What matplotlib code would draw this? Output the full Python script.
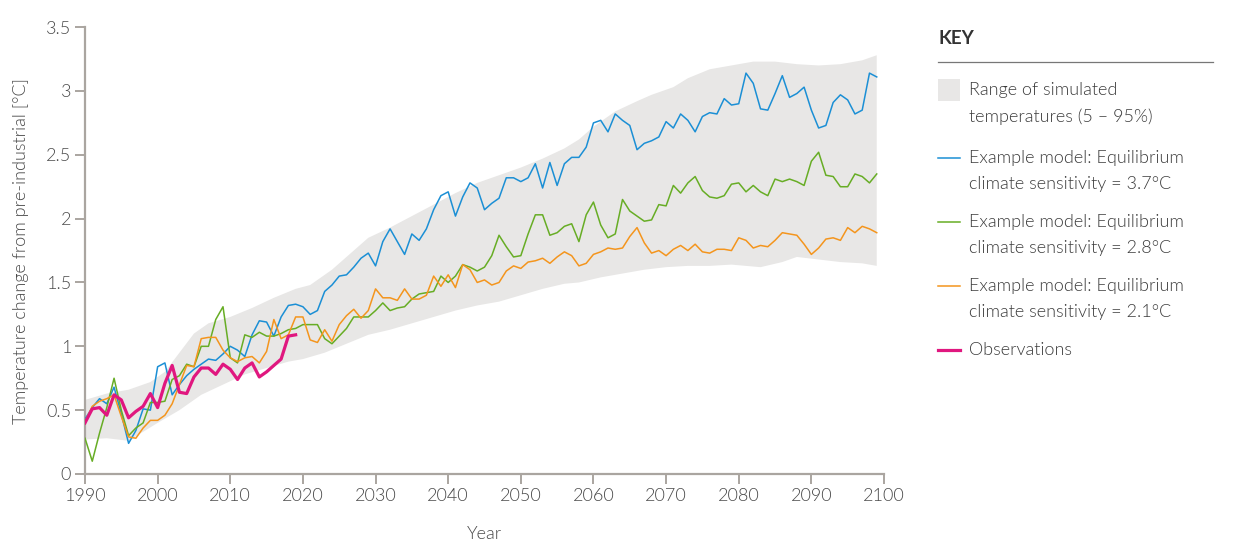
import numpy as np
import matplotlib
matplotlib.use("Agg")
import matplotlib.pyplot as plt
from matplotlib.patches import Rectangle

plt.rcParams['font.family'] = ['Lato', 'DejaVu Sans']
plt.rcParams['font.weight'] = 300

# yearly model runs, 1990-2099
years = np.arange(1990, 2100)

ecs_37 = [0.43, 0.52, 0.59, 0.55, 0.68, 0.47, 0.24, 0.34, 0.51, 0.50,
          0.84, 0.87, 0.62, 0.70, 0.77, 0.82, 0.86, 0.90, 0.89, 0.94,
          1.00, 0.97, 0.92, 1.09, 1.20, 1.19, 1.08, 1.23, 1.32, 1.33,
          1.31, 1.25, 1.28, 1.43, 1.48, 1.55, 1.56, 1.62, 1.69, 1.73,
          1.63, 1.82, 1.92, 1.82, 1.72, 1.88, 1.83, 1.92, 2.07, 2.18,
          2.21, 2.02, 2.17, 2.28, 2.24, 2.07, 2.12, 2.16, 2.32, 2.32,
          2.29, 2.32, 2.43, 2.24, 2.44, 2.26, 2.43, 2.48, 2.48, 2.56,
          2.75, 2.77, 2.68, 2.82, 2.77, 2.73, 2.54, 2.59, 2.61, 2.64,
          2.76, 2.71, 2.82, 2.77, 2.68, 2.80, 2.83, 2.82, 2.94, 2.89,
          2.90, 3.14, 3.06, 2.86, 2.85, 2.98, 3.12, 2.95, 2.98, 3.03,
          2.85, 2.71, 2.73, 2.91, 2.97, 2.93, 2.82, 2.85, 3.14, 3.11]

ecs_28 = [0.28, 0.10, 0.32, 0.52, 0.75, 0.50, 0.30, 0.36, 0.40, 0.56,
          0.56, 0.57, 0.74, 0.77, 0.86, 0.84, 1.00, 1.00, 1.21, 1.31,
          0.91, 0.87, 1.09, 1.07, 1.11, 1.08, 1.08, 1.10, 1.13, 1.14,
          1.17, 1.17, 1.17, 1.06, 1.02, 1.08, 1.14, 1.23, 1.23, 1.23,
          1.28, 1.34, 1.28, 1.30, 1.31, 1.37, 1.41, 1.42, 1.43, 1.55,
          1.50, 1.55, 1.64, 1.62, 1.59, 1.62, 1.71, 1.87, 1.78, 1.70,
          1.71, 1.88, 2.03, 2.03, 1.87, 1.89, 1.94, 1.96, 1.82, 2.03,
          2.13, 1.95, 1.85, 1.88, 2.15, 2.06, 2.02, 1.98, 1.99, 2.11,
          2.10, 2.26, 2.20, 2.28, 2.33, 2.22, 2.17, 2.16, 2.18, 2.27,
          2.28, 2.21, 2.26, 2.21, 2.18, 2.31, 2.29, 2.31, 2.29, 2.26,
          2.45, 2.52, 2.34, 2.33, 2.25, 2.25, 2.35, 2.33, 2.28, 2.35]

ecs_21 = [0.41, 0.53, 0.57, 0.59, 0.62, 0.45, 0.29, 0.28, 0.36, 0.42,
          0.42, 0.46, 0.55, 0.70, 0.85, 0.84, 1.06, 1.07, 1.07, 0.97,
          0.91, 0.88, 0.91, 0.92, 0.87, 0.96, 1.21, 1.06, 1.09, 1.23,
          1.23, 1.05, 1.03, 1.13, 1.04, 1.17, 1.24, 1.29, 1.22, 1.28,
          1.45, 1.38, 1.38, 1.36, 1.45, 1.37, 1.37, 1.40, 1.55, 1.47,
          1.56, 1.46, 1.64, 1.60, 1.50, 1.52, 1.48, 1.50, 1.59, 1.63,
          1.61, 1.66, 1.67, 1.69, 1.65, 1.70, 1.74, 1.71, 1.63, 1.65,
          1.72, 1.74, 1.77, 1.76, 1.77, 1.86, 1.93, 1.81, 1.73, 1.75,
          1.71, 1.76, 1.79, 1.75, 1.80, 1.74, 1.73, 1.76, 1.76, 1.75,
          1.85, 1.83, 1.77, 1.79, 1.78, 1.83, 1.89, 1.88, 1.87, 1.80,
          1.72, 1.77, 1.84, 1.85, 1.83, 1.93, 1.89, 1.94, 1.92, 1.89]

# observations 1990-2019
obs_years = np.arange(1990, 2020)
obs = [0.40, 0.51, 0.52, 0.46, 0.62, 0.58, 0.44, 0.49, 0.53, 0.63,
       0.52, 0.71, 0.85, 0.64, 0.63, 0.76, 0.83, 0.83, 0.78, 0.86,
       0.82, 0.74, 0.83, 0.87, 0.76, 0.80, 0.85, 0.90, 1.08, 1.09]

# 5-95% range of simulated temperatures
band_upper_years = [1990, 1993, 1996, 1999, 2001, 2003, 2005, 2007, 2010, 2013,
                    2016, 2019, 2021, 2024, 2027, 2029, 2032, 2035, 2038, 2041,
                    2044, 2047, 2050, 2053, 2056, 2058, 2060, 2063, 2066, 2068,
                    2071, 2073, 2076, 2079, 2082, 2085, 2088, 2091, 2094, 2097, 2099]
band_upper = [0.58, 0.63, 0.66, 0.72, 0.80, 0.95, 1.10, 1.18, 1.23, 1.30,
              1.38, 1.45, 1.48, 1.60, 1.75, 1.85, 1.93, 2.02, 2.11, 2.20,
              2.28, 2.34, 2.40, 2.47, 2.55, 2.62, 2.72, 2.84, 2.92, 2.97,
              3.03, 3.10, 3.17, 3.20, 3.23, 3.23, 3.21, 3.20, 3.21, 3.24, 3.28]
band_lower_years = [1990, 1993, 1996, 1998, 2000, 2003, 2006, 2009, 2012, 2015,
                    2018, 2020, 2023, 2026, 2029, 2032, 2035, 2038, 2041, 2044,
                    2047, 2050, 2053, 2056, 2058, 2061, 2064, 2067, 2070, 2073,
                    2076, 2079, 2081, 2083, 2086, 2088, 2091, 2094, 2097, 2099]
band_lower = [0.27, 0.28, 0.26, 0.33, 0.40, 0.50, 0.62, 0.70, 0.78, 0.83,
              0.88, 0.90, 0.95, 1.02, 1.09, 1.13, 1.18, 1.23, 1.28, 1.32,
              1.35, 1.40, 1.45, 1.49, 1.50, 1.54, 1.57, 1.60, 1.62, 1.63,
              1.63, 1.64, 1.63, 1.62, 1.66, 1.70, 1.68, 1.66, 1.65, 1.63]

x_ticks = list(range(1990, 2101, 10))
y_ticks = [0, 0.5, 1, 1.5, 2, 2.5, 3, 3.5]
y_tick_labels = ['0', '0.5', '1', '1.5', '2', '2.5', '3', '3.5']

key_labels = ['Range of simulated\ntemperatures (5 \u2013 95%)',
              'Example model: Equilibrium\nclimate sensitivity = 3.7\u00b0C',
              'Example model: Equilibrium\nclimate sensitivity = 2.8\u00b0C',
              'Example model: Equilibrium\nclimate sensitivity = 2.1\u00b0C',
              'Observations']

c_band = '#e8e7e6'
c_blue = '#1b8fd5'
c_green = '#67ad25'
c_orange = '#f4951d'
c_pink = '#e0177f'
c_axis = '#aaa5a0'
c_text = '#4a4a4a'

fig = plt.figure(figsize=(12.5, 5.53), dpi=100)
ax = fig.add_axes([0.068, 0.1429, 0.6392, 0.808])

# band as polygon from upper edge and reversed lower edge
poly_x = list(band_upper_years) + list(band_lower_years[::-1])
poly_y = list(band_upper) + list(band_lower[::-1])
ax.fill(poly_x, poly_y, color=c_band, lw=0, zorder=1)

ax.plot(years, ecs_37, color=c_blue, lw=1.1, zorder=3)
ax.plot(years, ecs_28, color=c_green, lw=1.1, zorder=3)
ax.plot(years, ecs_21, color=c_orange, lw=1.1, zorder=3)
ax.plot(obs_years, obs, color=c_pink, lw=2.3, zorder=4)

ax.set_xlim(1990, 2100)
ax.set_ylim(0, 3.5)
ax.set_xticks(x_ticks)
ax.set_yticks(y_ticks)
ax.set_yticklabels(y_tick_labels)
for s in ['top', 'right']:
    ax.spines[s].set_visible(False)
for s in ['left', 'bottom']:
    ax.spines[s].set_color(c_axis)
    ax.spines[s].set_linewidth(1.6)
ax.tick_params(axis='both', colors=c_axis, length=7, width=1.4, direction='out',
               labelcolor=c_text, labelsize=13, pad=3)
ax.set_ylabel('Temperature change from pre-industrial [\u00b0C]', color=c_text,
              fontsize=13, fontweight=300, labelpad=12)
ax.set_xlabel('Year', color=c_text, fontsize=13, fontweight=300, labelpad=16)

# key panel in pixel coordinates
kx = fig.add_axes([0, 0, 1, 1])
kx.set_xlim(0, 1250)
kx.set_ylim(553, 0)
kx.axis('off')
kx.text(938, 38, 'KEY', fontsize=13.5, fontweight='bold', color='#333333', va='center')
kx.plot([938, 1213], [62, 62], color='#777777', lw=0.9)
kx.add_patch(Rectangle((938, 79), 22, 22, color=c_band, lw=0))
item_y = [90, 158, 222, 286, 350]
item_colors = [None, c_blue, c_green, c_orange, c_pink]
item_lw = [0, 1.1, 1.1, 1.1, 2.3]
for yy, lab, col, lw in zip(item_y, key_labels, item_colors, item_lw):
    if col is not None:
        kx.plot([938, 960], [yy, yy], color=col, lw=lw)
    kx.text(969, yy - 8, lab, fontsize=13, color='#3c3c3c', va='top',
            linespacing=1.75)

fig.savefig('out.png', dpi=100)
